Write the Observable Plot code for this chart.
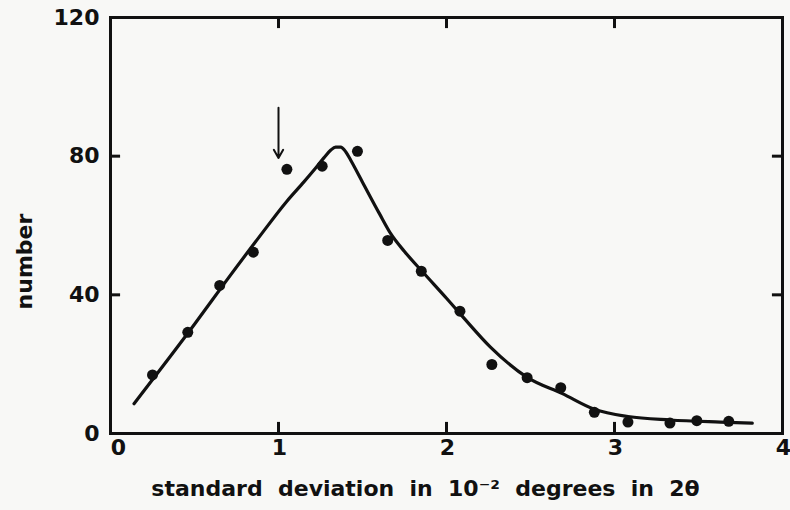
<!DOCTYPE html>
<html><head><meta charset="utf-8">
<script src="https://cdn.jsdelivr.net/npm/d3@7"></script>
<script src="https://cdn.jsdelivr.net/npm/@observablehq/plot@0.6"></script>
<style>
html,body{margin:0;padding:0;background:#f8f8f6;}
</style></head><body><div id="chart"></div>
<script>
// measured data points
const pointX = [0.25, 0.46, 0.65, 0.85, 1.05, 1.26, 1.47, 1.65, 1.85, 2.08, 2.27, 2.48, 2.68, 2.88, 3.08, 3.33, 3.49, 3.68];
const pointY = [16.9, 29.2, 42.7, 52.3, 76.2, 77.1, 81.4, 55.7, 46.8, 35.3, 19.9, 16.1, 13.2, 6.1, 3.3, 3.0, 3.7, 3.5];
// fitted curve
const curveX = [0.14, 0.5, 0.69, 0.89, 1.05, 1.15, 1.22, 1.27, 1.31, 1.34, 1.37, 1.40, 1.43, 1.5, 1.6, 1.67, 1.75, 1.86, 2.0, 2.1, 2.26, 2.48, 2.69, 2.88, 3.08, 3.33, 3.63, 3.82];
const curveY = [8.6, 31.5, 44.1, 57, 67, 72.5, 76.5, 79.5, 81.7, 82.6, 82.6, 81.3, 78.8, 72.5, 63.5, 57.5, 52.5, 46.5, 39, 33.5, 25, 16.2, 11.5, 7.0, 4.9, 3.9, 3.3, 3.0];
// tick values
const xTicksFirst = [0];
const xTicksRest = [1, 2, 3, 4];
const yTicks = [0, 40, 80, 120];
const xInnerTicks = [1, 2, 3];
const yInnerTicks = [40, 80];
// annotation arrow
const arrowX = [1.0];
const arrowFromY = [94];
const arrowToY = [79.5];
const xLabel = "standard  deviation  in  10⁻²  degrees  in  2θ";
const yLabel = "number";

const points = pointX.map((x, i) => ({x, y: pointY[i]}));
const curve = curveX.map((x, i) => ({x, y: curveY[i]}));
const arrows = arrowX.map((x, i) => ({x, y1: arrowFromY[i], y2: arrowToY[i]}));
const fmt = d3.format("d");

const chart = Plot.plot({
  width: 790,
  height: 510,
  marginLeft: 110,
  marginRight: 8,
  marginTop: 17,
  marginBottom: 77,
  style: {fontFamily: "'DejaVu Sans', sans-serif", fontWeight: "bold", fontSize: "22px", background: "#f8f8f6", color: "#111"},
  x: {domain: [0, 4]},
  y: {domain: [0, 120]},
  marks: [
    Plot.frame({stroke: "#111", strokeWidth: 3}),
    Plot.axisX({anchor: "bottom", ticks: xTicksFirst, tickFormat: fmt, tickSize: 0, tickPadding: 6, dx: 8, label: null, fontSize: 22}),
    Plot.axisX({anchor: "bottom", ticks: xTicksRest, tickFormat: fmt, tickSize: 0, tickPadding: 6, dx: 1, label: null, fontSize: 22}),
    Plot.axisY({anchor: "left", ticks: yTicks, tickFormat: fmt, tickSize: 0, tickPadding: 11, label: null, fontSize: 22}),
    Plot.ruleX(xInnerTicks, {y1: 0, y2: 3.2, stroke: "#111", strokeWidth: 3}),
    Plot.ruleX(xInnerTicks, {y1: 120, y2: 116.8, stroke: "#111", strokeWidth: 3}),
    Plot.ruleY(yInnerTicks, {x1: 0, x2: 0.06, stroke: "#111", strokeWidth: 3}),
    Plot.ruleY(yInnerTicks, {x1: 4, x2: 3.94, stroke: "#111", strokeWidth: 3}),
    Plot.line(curve, {x: "x", y: "y", curve: "monotone-x", stroke: "#111", strokeWidth: 3.2}),
    Plot.dot(points, {x: "x", y: "y", r: 5.5, fill: "#111", stroke: "none"}),
    Plot.arrow(arrows, {x1: "x", x2: "x", y1: "y1", y2: "y2", stroke: "#111", strokeWidth: 2, headLength: 7}),
    Plot.text([xLabel], {frameAnchor: "bottom", textAnchor: "middle", lineAnchor: "middle", dy: 55, dx: -21, fontSize: 22, fill: "#111"}),
    Plot.text([yLabel], {frameAnchor: "left", textAnchor: "middle", lineAnchor: "middle", rotate: -90, dx: -86, dy: 36, fontSize: 22, fill: "#111"})
  ]
});
document.getElementById("chart").appendChild(chart);
</script>
</body></html>
